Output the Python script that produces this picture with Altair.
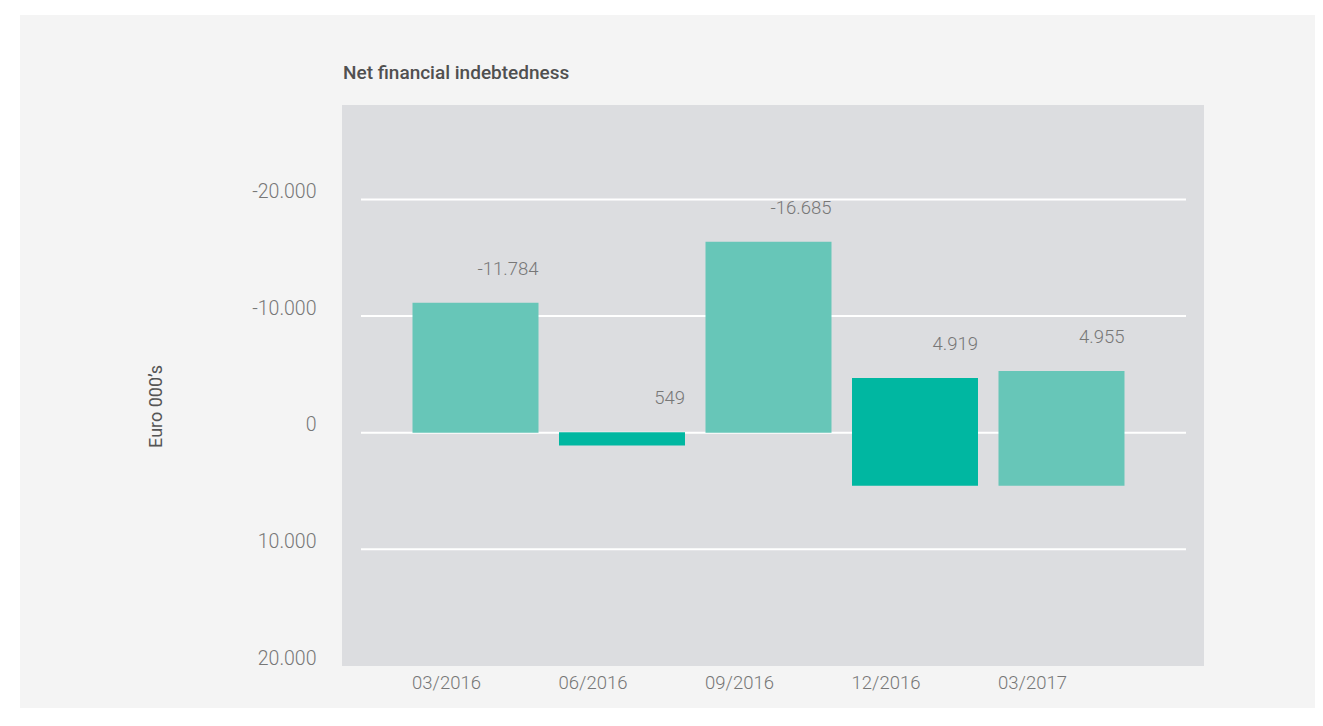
import altair as alt
import pandas as pd

# ---- data ----
periods = ["03/2016", "06/2016", "09/2016", "12/2016", "03/2017"]
bar_low = [-11150, -50, -16380, -4690, -5290]   # upper end of bar (axis is reversed)
bar_high = [0, 1100, 0, 4540, 4540]             # lower end of bar
value_labels = ["-11.784", "549", "-16.685", "4.919", "4.955"]
tones = ["light", "dark", "light", "dark", "light"]
grid_values = [-20000, -10000, 0, 10000]
tick_values = [-20000, -10000, 0, 10000, 20000]
chart_title = "Net financial indebtedness"
y_title = "Euro 000\u2019s"

bars_df = pd.DataFrame({
    "period": periods, "low": bar_low, "high": bar_high,
    "label": value_labels, "tone": tones,
})
grid_df = pd.DataFrame({"v": grid_values})

FONT = "Roboto"
W, H = 862, 561

yscale = alt.Scale(domain=[-28100, 20000], reverse=True, nice=False, zero=False)
xscale = alt.Scale(paddingInner=0.14, paddingOuter=0.512, align=0.47)

yaxis = alt.Axis(
    values=tick_values,
    labelExpr="(datum.value < 0 ? '-' : '') + replace(format(abs(datum.value), ','), ',', '.')",
    grid=False, ticks=False, domain=False, zindex=2,
    labelPadding=26, labelOffset=-8, labelFontSize=19.5, labelFont=FONT,
    labelFontWeight=300, labelColor="#777777",
    title=y_title, titleFont=FONT, titleFontSize=18, titleFontWeight=400,
    titleColor="#555555", titlePadding=86, titleY=301,
)
xaxis = alt.Axis(
    title=None, grid=False, ticks=False, domain=False, labelAngle=0, zindex=2,
    labelPadding=7, labelOffset=-29, labelFontSize=18.5, labelFont=FONT,
    labelFontWeight=300, labelColor="#777777",
)

one = alt.Data(values=[{"t": chart_title}])

panel = alt.Chart(one).mark_rect(color="#f4f4f4").encode(
    x=alt.value(20 - 342), x2=alt.value(1323 - 342),
    y=alt.value(15 - 105), y2=alt.value(740 - 105),
)
plot_bg = alt.Chart(one).mark_rect(color="#dcdde0").encode(
    x=alt.value(0), x2=alt.value(W), y=alt.value(0), y2=alt.value(H),
)
title_mark = alt.Chart(one).mark_text(
    align="left", baseline="middle", fontSize=19, fontWeight=500, font=FONT,
    color="#505050",
).encode(x=alt.value(1), y=alt.value(-32), text="t:N")

grid = alt.Chart(grid_df).mark_rule(color="#ffffff", strokeWidth=2).encode(
    y=alt.Y("v:Q", scale=yscale, axis=yaxis),
    x=alt.value(19), x2=alt.value(844),
)

bars = alt.Chart(bars_df).mark_bar().encode(
    x=alt.X("period:N", sort=periods, scale=xscale, axis=xaxis),
    y=alt.Y("low:Q", scale=yscale, axis=yaxis),
    y2="high:Q",
    color=alt.Color("tone:N", scale=alt.Scale(domain=["light", "dark"],
                                              range=["#67c6b8", "#00b7a1"]),
                    legend=None),
)

texts = alt.Chart(bars_df).mark_text(
    align="right", baseline="middle", dy=-34, fontSize=18.5, font=FONT,
    fontWeight=300, color="#777777",
).encode(
    x=alt.X("period:N", sort=periods, scale=xscale, axis=xaxis, bandPosition=1),
    y=alt.Y("low:Q", scale=yscale, axis=yaxis),
    text="label:N",
)

chart = alt.layer(panel, plot_bg, title_mark, grid, bars, texts).properties(
    width=W, height=H,
    autosize=alt.AutoSizeParams(type="none"),
    padding={"left": 334, "top": 97, "right": 1307 - 334 - W, "bottom": 700 - 97 - H},
    background="#ffffff",
).configure_view(stroke=None)

chart.save("out.html", embed_options={"renderer": "svg", "actions": False})
